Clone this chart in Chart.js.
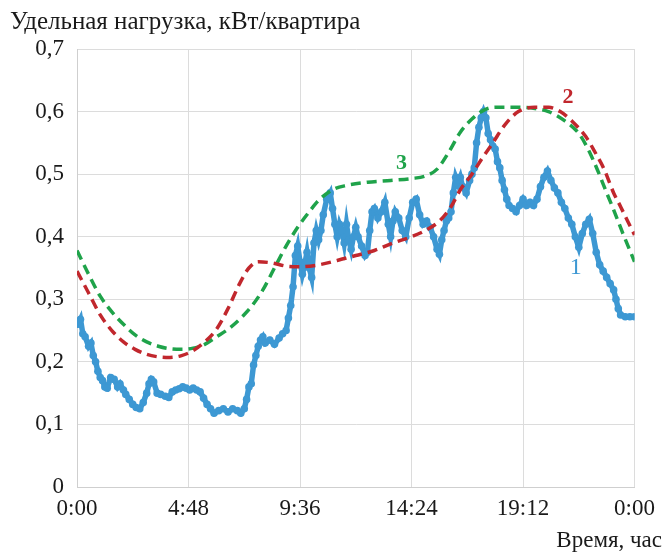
<!DOCTYPE html>
<html>
<head>
<meta charset="utf-8">
<script src="https://cdn.jsdelivr.net/npm/chart.js@4/dist/chart.umd.min.js"></script>
<style>
  html, body { margin: 0; padding: 0; background: #fff; }
  #wrap { width: 663px; height: 554px; position: relative; }
</style>
</head>
<body>
<div id="wrap"><canvas id="c" width="663" height="554"></canvas></div>
<script>
// Axis ticks
const xTickHours = [0, 4.8, 9.6, 14.4, 19.2, 24];
const xTickLabels = ['0:00', '4:48', '9:36', '14:24', '19:12', '0:00'];
const yTickValues = [0, 0.1, 0.2, 0.3, 0.4, 0.5, 0.6, 0.7];
const yTickLabels = ['0', '0,1', '0,2', '0,3', '0,4', '0,5', '0,6', '0,7'];

// Series 1: measured load (hours, kW per flat)
const measuredHours = [
  0.05, 0.15, 0.25, 0.35, 0.5, 0.6, 0.7, 0.8, 0.9, 1.0, 1.1, 1.2, 1.3, 1.45, 1.6, 1.75, 1.85, 2.0, 2.1, 2.25,
  2.4, 2.55, 2.7, 2.85, 3.0, 3.1, 3.2, 3.3, 3.45, 3.6, 3.8, 3.95, 4.1, 4.25, 4.4, 4.55, 4.7, 4.85, 5.0, 5.15,
  5.3, 5.45, 5.6, 5.75, 5.9, 6.1, 6.3, 6.5, 6.7, 6.9, 7.05, 7.2, 7.3, 7.4, 7.5, 7.6, 7.7, 7.8, 7.9, 8.0,
  8.1, 8.3, 8.5, 8.7, 8.85, 9.0, 9.1, 9.2, 9.3, 9.4, 9.5, 9.6, 9.7, 9.8, 9.9, 10.0, 10.1, 10.2, 10.3, 10.4,
  10.5, 10.6, 10.75, 10.9, 11.0, 11.1, 11.2, 11.3, 11.4, 11.5, 11.6, 11.7, 11.8, 11.9, 12.0, 12.1, 12.25, 12.4, 12.5, 12.6,
  12.7, 12.8, 12.95, 13.1, 13.25, 13.4, 13.5, 13.6, 13.7, 13.85, 14.0, 14.15, 14.3, 14.45, 14.6, 14.75, 14.9, 15.05, 15.2, 15.35,
  15.5, 15.6, 15.7, 15.8, 15.9, 16.0, 16.1, 16.2, 16.3, 16.4, 16.5, 16.6, 16.75, 16.9, 17.0, 17.1, 17.2, 17.3, 17.4, 17.5,
  17.6, 17.7, 17.8, 17.9, 18.0, 18.1, 18.2, 18.3, 18.4, 18.5, 18.6, 18.75, 18.9, 19.05, 19.2, 19.35, 19.5, 19.65, 19.8, 19.95,
  20.1, 20.25, 20.4, 20.55, 20.7, 20.85, 21.0, 21.15, 21.3, 21.45, 21.6, 21.75, 21.9, 22.05, 22.2, 22.35, 22.5, 22.65, 22.8, 22.95,
  23.1, 23.2, 23.3, 23.4, 23.6, 23.8, 24.0
];
const measuredLoad = [
  0.26, 0.268, 0.245, 0.24, 0.225, 0.23, 0.21, 0.2, 0.185, 0.175, 0.17, 0.16, 0.158, 0.175, 0.172, 0.16, 0.165, 0.155, 0.148, 0.14,
  0.132, 0.127, 0.125, 0.135, 0.15, 0.165, 0.172, 0.168, 0.15, 0.148, 0.145, 0.143, 0.152, 0.155, 0.157, 0.16, 0.158, 0.155, 0.158, 0.155,
  0.152, 0.142, 0.132, 0.125, 0.118, 0.122, 0.125, 0.12, 0.125, 0.122, 0.118, 0.125, 0.14, 0.16, 0.165, 0.195, 0.21, 0.225, 0.235, 0.24,
  0.23, 0.235, 0.228, 0.238, 0.245, 0.25, 0.27, 0.29, 0.32, 0.37, 0.385, 0.36, 0.34, 0.355, 0.375, 0.35, 0.335, 0.39, 0.41, 0.395,
  0.41, 0.435, 0.46, 0.47, 0.445, 0.42, 0.4, 0.42, 0.41, 0.39, 0.42, 0.395, 0.38, 0.4, 0.415, 0.4, 0.385, 0.37, 0.375, 0.41,
  0.44, 0.445, 0.43, 0.44, 0.455, 0.42, 0.4, 0.425, 0.44, 0.43, 0.41, 0.4, 0.43, 0.455, 0.46, 0.435, 0.42, 0.425, 0.415, 0.4,
  0.38, 0.372, 0.395, 0.41, 0.425, 0.43, 0.44, 0.47, 0.495, 0.485, 0.495, 0.48, 0.47, 0.49, 0.5, 0.51, 0.55, 0.575, 0.59, 0.6,
  0.59, 0.565, 0.555, 0.545, 0.54, 0.52, 0.51, 0.49, 0.475, 0.46, 0.45, 0.445, 0.44, 0.45, 0.46, 0.45, 0.455, 0.45, 0.46, 0.48,
  0.495, 0.505, 0.49, 0.478, 0.47, 0.455, 0.445, 0.43, 0.42, 0.4, 0.383, 0.405, 0.42, 0.428, 0.405, 0.375, 0.355, 0.345, 0.335, 0.325,
  0.315, 0.3, 0.285, 0.275, 0.272, 0.272, 0.272
];

// Series 2: model curve
const model2Hours = [0, 0.5, 1.0, 1.5, 2.0, 2.5, 3.0, 3.5, 4.0, 4.5, 5.0, 5.5, 6.0, 6.5, 7.0, 7.4, 7.8, 8.4, 9.0, 9.6,
  10.4, 11.2, 12.0, 12.8, 13.6, 14.4, 15.0, 15.6, 16.1, 16.5, 17.0, 17.4, 17.9, 18.4, 19.0, 19.7, 20.3, 20.8, 21.3, 21.9,
  22.3, 22.7, 23.1, 23.4, 23.7, 24.0];
const model2Load = [0.345, 0.31, 0.275, 0.25, 0.232, 0.22, 0.212, 0.208, 0.207, 0.21, 0.218, 0.232, 0.252, 0.285, 0.325, 0.35, 0.36, 0.358, 0.353, 0.352,
  0.355, 0.362, 0.37, 0.378, 0.39, 0.4, 0.41, 0.425, 0.448, 0.475, 0.5, 0.523, 0.55, 0.578, 0.6, 0.607, 0.607, 0.6, 0.585, 0.56,
  0.535, 0.507, 0.47, 0.448, 0.425, 0.403];

// Series 3: model curve
const model3Hours = [0, 0.5, 1.0, 1.5, 2.0, 2.5, 3.0, 3.5, 4.0, 4.5, 5.0, 5.5, 6.0, 6.5, 7.0, 7.5, 8.0, 8.5, 9.0, 9.5,
  10.0, 10.4, 11.0, 11.6, 12.5, 13.5, 14.4, 15.0, 15.5, 16.0, 16.5, 17.0, 17.5, 18.0, 18.8, 19.7, 20.3, 21.0, 21.6, 22.0,
  22.4, 22.8, 23.1, 23.5, 24.0];
const model3Load = [0.378, 0.34, 0.305, 0.28, 0.26, 0.243, 0.232, 0.225, 0.221, 0.22, 0.222, 0.228, 0.24, 0.252, 0.268, 0.288, 0.315, 0.35, 0.385, 0.415,
  0.44, 0.458, 0.475, 0.482, 0.487, 0.49, 0.493, 0.497, 0.508, 0.535, 0.567, 0.588, 0.602, 0.607, 0.607, 0.605, 0.6, 0.585, 0.565, 0.54,
  0.507, 0.47, 0.443, 0.405, 0.36];

// Curve numbers and where they sit (hours, value)
const curveNames = ['1', '2', '3'];
const curveNameSpots = [[21.47, 0.35], [21.13, 0.622], [13.97, 0.518]];

const BLUE = '#3d98d3';
const RED = '#c1272d';
const GREEN = '#1fa34a';
const SERIF = '"Liberation Serif", "Times New Roman", serif';

const pts = (xs, ys) => xs.map((x, i) => ({ x: x, y: ys[i] }));

const textPlugin = {
  id: 'texts',
  afterDraw(chart) {
    const ctx = chart.ctx;
    const xs = chart.scales.x, ys = chart.scales.y;
    ctx.save();
    ctx.fillStyle = '#1a1a1a';
    ctx.textBaseline = 'middle';
    ctx.textAlign = 'left';
    ctx.font = '25px ' + SERIF;
    ctx.fillText('Удельная нагрузка, кВт/квартира', 10, 22);
    ctx.textAlign = 'right';
    ctx.font = '23px ' + SERIF;
    ctx.fillText('Время, час', 662, 541);
    const colors = [BLUE, RED, GREEN];
    const weights = ['', 'bold ', 'bold '];
    const sizes = [24, 22, 22];
    ctx.textAlign = 'center';
    curveNames.forEach((name, i) => {
      ctx.fillStyle = colors[i];
      ctx.font = weights[i] + sizes[i] + 'px ' + SERIF;
      ctx.fillText(name, xs.getPixelForValue(curveNameSpots[i][0]), ys.getPixelForValue(curveNameSpots[i][1]));
    });
    ctx.restore();
  }
};

new Chart(document.getElementById('c'), {
  type: 'line',
  data: {
    datasets: [
      {
        data: pts(model2Hours, model2Load),
        borderColor: RED,
        borderWidth: 3.5,
        borderDash: [10, 6],
        cubicInterpolationMode: 'monotone',
        pointRadius: 0,
        fill: false,
        order: 1
      },
      {
        data: pts(model3Hours, model3Load),
        borderColor: GREEN,
        borderWidth: 3.5,
        borderDash: [10, 6],
        cubicInterpolationMode: 'monotone',
        pointRadius: 0,
        fill: false,
        order: 2
      },
      {
        data: pts(measuredHours, measuredLoad),
        borderColor: BLUE,
        backgroundColor: BLUE,
        borderWidth: 5.5,
        tension: 0,
        pointRadius: 3.8,
        pointBorderWidth: 0,
        fill: false,
        order: 3
      }
    ]
  },
  options: {
    responsive: false,
    animation: false,
    events: [],
    layout: { padding: { top: 49, right: 26, left: 0, bottom: 0 } },
    plugins: { legend: { display: false }, tooltip: { enabled: false }, title: { display: false } },
    scales: {
      x: {
        type: 'linear',
        min: 0,
        max: 24,
        afterFit(s) { s.height = 67; },
        afterBuildTicks(s) { s.ticks = xTickHours.map(v => ({ value: v })); },
        grid: { color: '#dcdcdc', lineWidth: 1, drawTicks: false },
        border: { color: '#cfcfcf' },
        ticks: {
          color: '#1a1a1a',
          font: { family: SERIF, size: 23 },
          padding: 8,
          maxRotation: 0,
          autoSkip: false,
          callback: (v, i) => xTickLabels[i]
        }
      },
      y: {
        min: 0,
        max: 0.7,
        afterFit(s) { s.width = 77; },
        afterBuildTicks(s) { s.ticks = yTickValues.map(v => ({ value: v })); },
        grid: { color: '#dcdcdc', lineWidth: 1, drawTicks: false },
        border: { color: '#cfcfcf' },
        ticks: {
          color: '#1a1a1a',
          font: { family: SERIF, size: 23 },
          padding: 13,
          autoSkip: false,
          callback: (v, i) => yTickLabels[i]
        }
      }
    }
  },
  plugins: [textPlugin]
});
</script>
</body>
</html>
